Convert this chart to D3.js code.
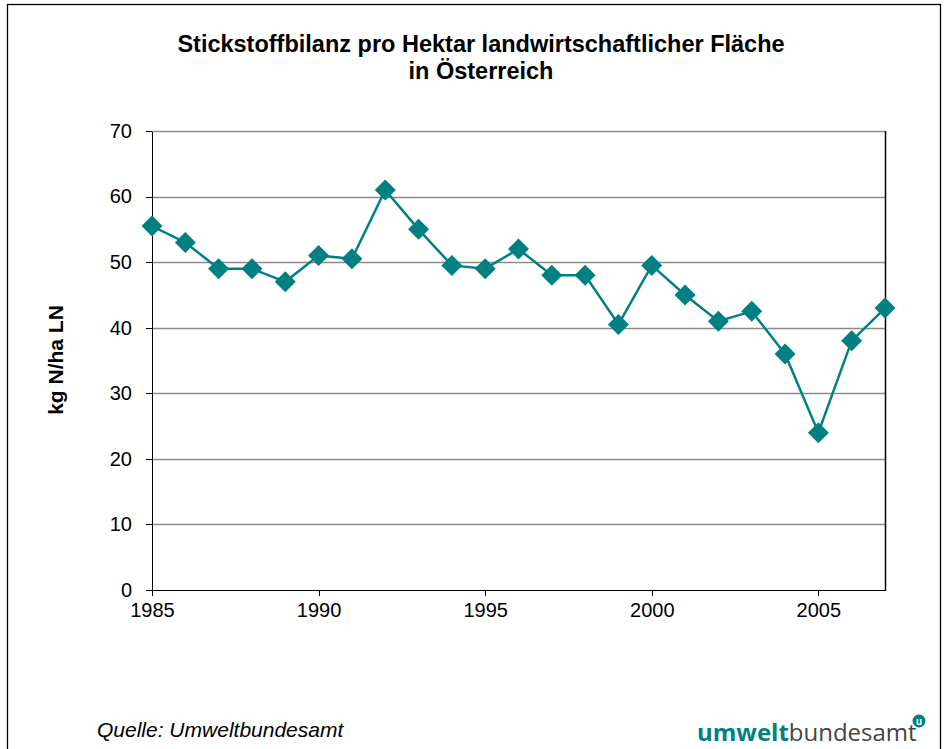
<!DOCTYPE html>
<html lang="de">
<head>
<meta charset="UTF-8">
<title>Stickstoffbilanz</title>
<script src="https://cdn.jsdelivr.net/npm/d3@7"></script>
<style>
    body { margin: 0; background: #fff; }
    text { font-family: "Liberation Sans", Arial, sans-serif; fill: #000; }
    .axis text { font-size: 20px; }
    .axis path, .axis line { stroke: #000; shape-rendering: crispEdges; }
</style>
</head>
<body>
<script>
    var years = [1985, 1986, 1987, 1988, 1989, 1990, 1991, 1992, 1993, 1994, 1995, 1996,
                 1997, 1998, 1999, 2000, 2001, 2002, 2003, 2004, 2005, 2006, 2007];
    var values = [55.5, 53, 49, 49, 47, 51, 50.5, 61, 55, 49.5, 49, 52,
                  48, 48, 40.5, 49.5, 45, 41, 42.5, 36, 24, 38, 43];
    var xTicks = [1985, 1990, 1995, 2000, 2005];
    var yTicks = [0, 10, 20, 30, 40, 50, 60, 70];

    var w = 946, h = 749;
    var plotLeft = 152, plotRight = 885, plotTop = 131, plotBottom = 590;

    var svg = d3.select("body").append("svg")
        .attr("width", w)
        .attr("height", h);

    // outer frame
    svg.append("rect")
        .attr("x", 7.5).attr("y", 4.5)
        .attr("width", 933).attr("height", 760)
        .attr("fill", "none")
        .attr("stroke", "#000")
        .attr("stroke-width", 1.3);

    var x = d3.scaleLinear().domain([1985, 2007]).range([plotLeft, plotRight]);
    var y = d3.scaleLinear().domain([0, 70]).range([plotBottom, plotTop]);

    // gridlines
    svg.append("g").selectAll("line")
        .data(yTicks.filter(function (d) { return d > 0; }))
        .enter().append("line")
        .attr("x1", plotLeft).attr("x2", plotRight)
        .attr("y1", function (d) { return Math.round(y(d)) + 0.5; })
        .attr("y2", function (d) { return Math.round(y(d)) + 0.5; })
        .attr("stroke", "#8c8c8c")
        .attr("stroke-width", 1.5);

    // right border of plot
    svg.append("line")
        .attr("x1", plotRight + 0.5).attr("x2", plotRight + 0.5)
        .attr("y1", plotTop).attr("y2", plotBottom)
        .attr("stroke", "#000").attr("stroke-width", 1.5);

    svg.append("g")
        .attr("class", "axis")
        .attr("transform", "translate(0," + plotBottom + ")")
        .call(d3.axisBottom(x).tickValues(xTicks).tickFormat(d3.format("d"))
            .tickSize(6).tickSizeOuter(0).tickPadding(7))
        .call(function (g) {
            g.select(".domain").attr("stroke-width", 1.5);
            g.selectAll(".tick line").attr("stroke", "#777");
        });

    svg.append("g")
        .attr("class", "axis")
        .attr("transform", "translate(" + plotLeft + ",0)")
        .call(d3.axisLeft(y).tickValues(yTicks).tickSize(6).tickSizeOuter(0).tickPadding(14))
        .call(function (g) {
            g.select(".domain").attr("stroke-width", 1.5);
            g.selectAll(".tick line").attr("stroke", "#777");
        });

    var pts = years.map(function (d, i) { return [d, values[i]]; });

    svg.append("path")
        .datum(pts)
        .attr("fill", "none")
        .attr("stroke", "#008080")
        .attr("stroke-width", 2.5)
        .attr("d", d3.line()
            .x(function (d) { return x(d[0]); })
            .y(function (d) { return y(d[1]); }));

    svg.append("g").selectAll("path")
        .data(pts)
        .enter().append("path")
        .attr("fill", "#008080")
        .attr("transform", function (d) {
            return "translate(" + x(d[0]) + "," + y(d[1]) + ")";
        })
        .attr("d", "M0,-10.5L10.5,0L0,10.5L-10.5,0Z");

    // title
    svg.append("text")
        .attr("x", 481).attr("y", 52)
        .attr("text-anchor", "middle")
        .attr("font-size", "23.5px").attr("font-weight", "bold")
        .text("Stickstoffbilanz pro Hektar landwirtschaftlicher Fläche");
    svg.append("text")
        .attr("x", 481).attr("y", 79)
        .attr("text-anchor", "middle")
        .attr("font-size", "23.5px").attr("font-weight", "bold")
        .text("in Österreich");

    // y axis label
    svg.append("text")
        .attr("transform", "translate(63,360) rotate(-90)")
        .attr("text-anchor", "middle")
        .attr("font-size", "21px").attr("font-weight", "bold")
        .text("kg N/ha LN");

    // source
    svg.append("text")
        .attr("x", 97).attr("y", 737)
        .attr("font-size", "21px").attr("font-style", "italic")
        .text("Quelle: Umweltbundesamt");

    // logo
    var logo = svg.append("text")
        .attr("x", 697).attr("y", 741)
        .attr("font-size", "24px")
        .style("font-family", "'Open Sans', sans-serif");
    logo.append("tspan").attr("font-weight", "bold").attr("fill", "#008080").text("umwelt");
    logo.append("tspan").attr("fill", "#444").text("bundesamt");
    svg.append("circle")
        .attr("cx", 919).attr("cy", 721).attr("r", 6.5)
        .attr("fill", "#008080");
    svg.append("text")
        .attr("x", 919).attr("y", 725)
        .attr("text-anchor", "middle")
        .attr("font-size", "10px").attr("font-weight", "bold")
        .style("fill", "#fff")
        .text("u");
</script>
</body>
</html>
